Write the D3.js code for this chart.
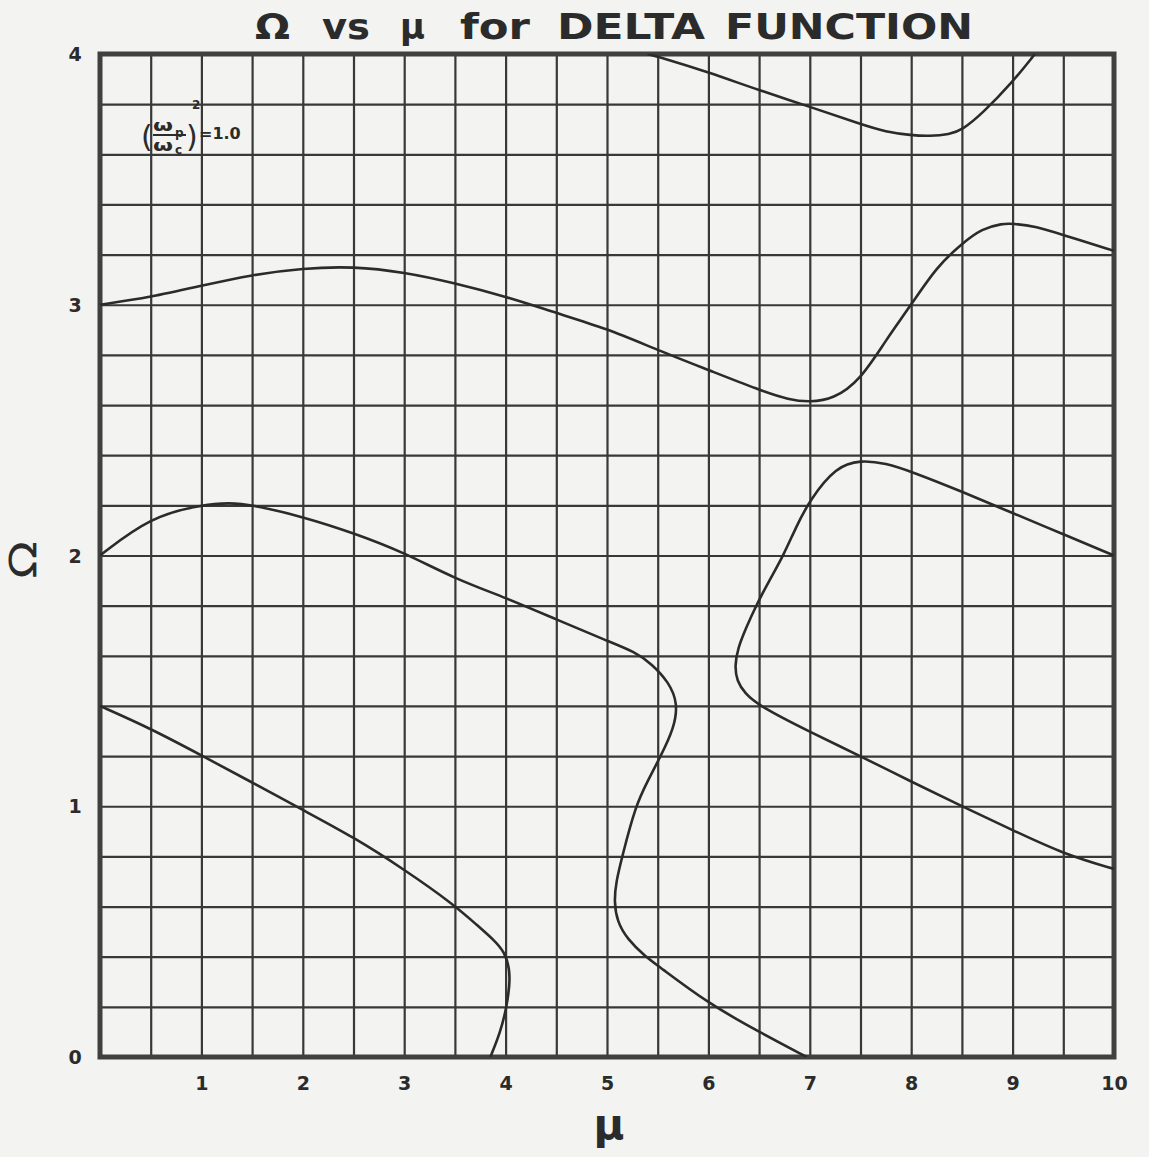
<!DOCTYPE html>
<html>
<head>
<meta charset="utf-8">
<script src="https://cdn.jsdelivr.net/npm/d3@7"></script>
<style>
  html, body { margin: 0; padding: 0; background: #f3f3f1; }
  svg { display: block; }
  text { font-family: "DejaVu Sans", "Liberation Sans", sans-serif; font-weight: bold; fill: #2b2b2b; }
</style>
</head>
<body>
<svg id="chart" width="1149" height="1157"></svg>
<script>
// Axis tick labels
const muTicks = [1, 2, 3, 4, 5, 6, 7, 8, 9, 10];
const omegaTicks = [0, 1, 2, 3, 4];

// Dispersion branches, [mu, Omega] along each branch
const branchA = [[0, 1.40], [0.5, 1.31], [1.0, 1.203], [1.5, 1.095], [2.0, 0.985], [2.5, 0.877],
  [3.0, 0.748], [3.5, 0.605], [3.72, 0.525], [3.89, 0.465], [3.99, 0.418], [4.04, 0.352],
  [4.04, 0.286], [4.01, 0.20], [3.95, 0.10], [3.85, 0.0]];

const branchB = [[0, 2.0], [0.5, 2.155], [1.0, 2.202], [1.28, 2.211], [1.5, 2.202], [2.0, 2.155],
  [2.5, 2.09], [3.0, 2.012], [3.5, 1.907], [4.0, 1.832], [4.5, 1.745], [5.0, 1.66],
  [5.28, 1.615], [5.44, 1.568], [5.61, 1.495], [5.70, 1.41], [5.66, 1.31], [5.53, 1.20],
  [5.40, 1.10], [5.28, 1.0], [5.15, 0.80], [5.09, 0.70], [5.07, 0.62], [5.10, 0.54],
  [5.20, 0.47], [5.38, 0.40], [5.5, 0.365], [6.0, 0.213], [6.5, 0.10], [6.97, 0.0]];

const branchC = [[0, 3.0], [0.5, 3.03], [1.0, 3.076], [1.5, 3.12], [2.0, 3.146], [2.5, 3.153],
  [3.0, 3.13], [3.5, 3.086], [4.0, 3.033], [4.5, 2.967], [5.0, 2.905], [5.5, 2.819],
  [6.0, 2.74], [6.5, 2.66], [6.8, 2.62], [7.0, 2.612], [7.23, 2.623], [7.5, 2.70],
  [7.75, 2.859], [8.0, 3.0], [8.25, 3.151], [8.5, 3.244], [8.7, 3.304], [8.9, 3.324],
  [9.0, 3.324], [9.23, 3.313], [9.5, 3.278], [10, 3.215]];

const branchD = [[5.4, 4.0], [5.5, 3.99], [6.0, 3.928], [6.5, 3.855], [7.0, 3.79], [7.5, 3.72],
  [7.75, 3.689], [8.0, 3.676], [8.18, 3.672], [8.38, 3.68], [8.5, 3.696], [8.7, 3.762],
  [9.0, 3.888], [9.22, 4.0]];

const branchE = [[10, 0.75], [9.5, 0.81], [9.0, 0.905], [8.5, 1.0], [8.0, 1.098], [7.5, 1.2],
  [7.0, 1.296], [6.5, 1.40], [6.36, 1.45], [6.28, 1.50], [6.26, 1.56], [6.29, 1.63],
  [6.37, 1.71], [6.47, 1.80], [6.6, 1.90], [6.74, 2.0], [6.86, 2.11], [7.0, 2.222],
  [7.26, 2.355], [7.5, 2.381], [7.75, 2.368], [8.0, 2.335], [8.5, 2.255], [9.0, 2.169],
  [9.5, 2.085], [10, 2.0]];

const branches = [branchA, branchB, branchC, branchD, branchE];

const svg = d3.select("#chart");
const ink = "#2b2b2b";

const x = d3.scaleLinear().domain([0, 10]).range([100, 1114]);
const y = d3.scaleLinear().domain([0, 4]).range([1057, 54]);
const plotW = x(10) - x(0), plotH = y(0) - y(4);

// Ruled grid: every 0.5 in mu, every 0.2 in Omega
svg.append("g")
  .attr("transform", `translate(0,${y(0)})`)
  .call(d3.axisBottom(x).tickValues(d3.range(0.5, 10, 0.5)).tickSize(-plotH).tickFormat(""))
  .call(g => g.select(".domain").remove())
  .call(g => g.selectAll("line").attr("stroke", "#383838").attr("stroke-width", 2.2));

svg.append("g")
  .attr("transform", `translate(${x(0)},0)`)
  .call(d3.axisLeft(y).tickValues(d3.range(1, 20).map(i => i * 0.2)).tickSize(-plotW).tickFormat(""))
  .call(g => g.select(".domain").remove())
  .call(g => g.selectAll("line").attr("stroke", "#383838").attr("stroke-width", 2.2));

// Frame
svg.append("rect")
  .attr("x", x(0)).attr("y", y(4))
  .attr("width", plotW).attr("height", plotH)
  .attr("fill", "none").attr("stroke", "#404040").attr("stroke-width", 5);

// Curves
svg.append("clipPath").attr("id", "plot-clip")
  .append("rect").attr("x", x(0)).attr("y", y(4)).attr("width", plotW).attr("height", plotH);

const line = d3.line()
  .x(d => x(d[0]))
  .y(d => y(d[1]))
  .curve(d3.curveBasis);

svg.append("g").attr("clip-path", "url(#plot-clip)")
  .selectAll("path")
  .data(branches)
  .join("path")
  .attr("d", line)
  .attr("fill", "none")
  .attr("stroke", ink)
  .attr("stroke-width", 2.6)
  .attr("stroke-linejoin", "round");

// Tick labels
svg.append("g")
  .attr("transform", `translate(0,${y(0) + 26})`)
  .call(d3.axisBottom(x).tickValues(muTicks).tickSize(0).tickPadding(0).tickFormat(d3.format("d")))
  .call(g => g.select(".domain").remove())
  .call(g => g.selectAll("text")
    .style("font-family", "DejaVu Sans, sans-serif")
    .style("font-weight", "bold").attr("font-size", 19).style("fill", ink)
    .attr("dy", "0.35em").attr("y", 0));

svg.append("g")
  .attr("transform", `translate(75,0)`)
  .call(d3.axisLeft(y).tickValues(omegaTicks).tickSize(0).tickPadding(0).tickFormat(d3.format("d")))
  .call(g => g.select(".domain").remove())
  .call(g => g.selectAll("text")
    .style("font-family", "DejaVu Sans, sans-serif")
    .style("font-weight", "bold").attr("font-size", 19).style("fill", ink)
    .attr("text-anchor", "middle").attr("x", 0).attr("dy", "0.35em"));

// Title, set word by word
const titleWords = [
  { t: "Ω", x: 255, w: 35 },
  { t: "vs", x: 322, w: 48 },
  { t: "μ", x: 400, w: 25 },
  { t: "for", x: 460, w: 70 },
  { t: "DELTA", x: 557, w: 148 },
  { t: "FUNCTION", x: 725, w: 248 }
];
svg.append("g").selectAll("text")
  .data(titleWords)
  .join("text")
  .attr("x", d => d.x).attr("y", 39)
  .attr("textLength", d => d.w).attr("lengthAdjust", "spacingAndGlyphs")
  .attr("font-size", 36)
  .text(d => d.t);

// Axis titles
svg.append("text")
  .attr("x", 609).attr("y", 1139)
  .attr("text-anchor", "middle")
  .attr("font-size", 42)
  .text("μ");

svg.append("text")
  .attr("transform", "translate(36,560) rotate(-90) scale(1.3,1)")
  .attr("text-anchor", "middle")
  .attr("font-size", 38)
  .style("font-weight", "normal")
  .text("Ω");

// Parameter note: (ωp/ωc)^2 = 1.0
const note = svg.append("g");
note.append("text").attr("x", 141).attr("y", 147).attr("font-size", 30).style("font-weight", "normal").text("(");
note.append("text").attr("x", 153).attr("y", 131).attr("font-size", 16)
  .attr("textLength", 20).attr("lengthAdjust", "spacingAndGlyphs").text("ω");
note.append("text").attr("x", 175).attr("y", 137).attr("font-size", 12).text("p");
note.append("line").attr("x1", 153).attr("x2", 186).attr("y1", 135).attr("y2", 135)
  .attr("stroke", ink).attr("stroke-width", 2);
note.append("text").attr("x", 153).attr("y", 151).attr("font-size", 16)
  .attr("textLength", 20).attr("lengthAdjust", "spacingAndGlyphs").text("ω");
note.append("text").attr("x", 175).attr("y", 154).attr("font-size", 12).text("c");
note.append("text").attr("x", 186).attr("y", 147).attr("font-size", 30).style("font-weight", "normal").text(")");
note.append("text").attr("x", 192).attr("y", 109).attr("font-size", 12).text("2");
note.append("text").attr("x", 199).attr("y", 139).attr("font-size", 16).text("=1.0");
</script>
</body>
</html>
